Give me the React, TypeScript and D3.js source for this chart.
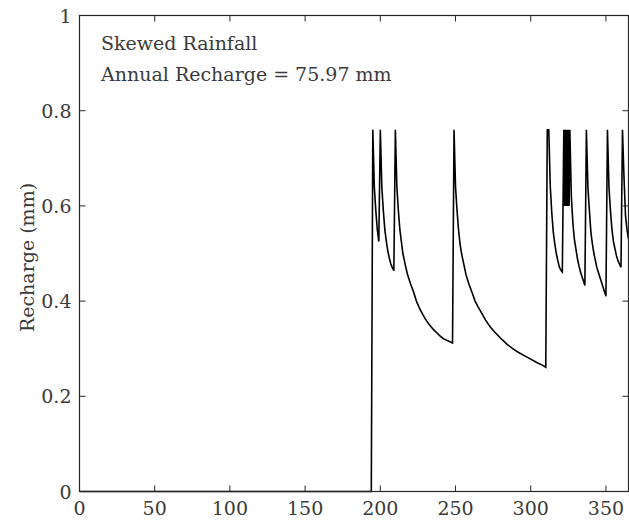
import React from "react";
import * as d3 from "d3";

const W = 629;
const H = 524;

// Day of year and recharge (mm)
const days: number[] = [
  0, 194, 195, 196, 197, 198, 199,
  200, 201, 202, 203, 204, 205, 206, 207, 208, 209,
  210, 211, 212, 213, 214, 215, 216, 217, 218, 219, 220, 222, 224, 226, 228, 230,
  232, 234, 236, 238, 240, 242, 244, 246, 248,
  249, 250, 251, 252, 253, 254, 255, 256, 257, 258, 259, 261, 263, 265, 267, 270,
  273, 276, 280, 284, 288, 292, 296, 300, 304, 308, 310,
  311, 312, 313, 314, 315, 316, 317, 318, 319, 320, 321,
  322, 322.5, 323, 323.5, 324, 324.5, 325, 325.5, 326, 327, 328, 329, 330, 331, 332, 333, 334, 335, 336,
  337, 338, 339, 340, 341, 342, 343, 344, 345, 346, 347, 348, 349, 350,
  351, 352, 353, 354, 355, 356, 357, 358, 359, 360,
  361, 362, 363, 364, 365,
];

const rechargeMm: number[] = [
  0, 0, 0.76, 0.64, 0.59, 0.55, 0.525,
  0.76, 0.64, 0.59, 0.55, 0.525, 0.505, 0.49, 0.478, 0.47, 0.464,
  0.76, 0.64, 0.59, 0.55, 0.525, 0.5, 0.485, 0.47, 0.457, 0.447, 0.437, 0.42, 0.4, 0.385, 0.373, 0.362,
  0.353, 0.345, 0.338, 0.332, 0.326, 0.321, 0.318, 0.315, 0.312,
  0.76, 0.64, 0.59, 0.55, 0.52, 0.5, 0.485, 0.47, 0.455, 0.445, 0.435, 0.418, 0.4, 0.388, 0.377, 0.36,
  0.346, 0.335, 0.322, 0.31, 0.3, 0.292, 0.285, 0.278, 0.271, 0.265, 0.261,
  0.76, 0.76, 0.64, 0.585, 0.545, 0.52, 0.5, 0.485, 0.472, 0.465, 0.461,
  0.76, 0.6, 0.76, 0.6, 0.76, 0.6, 0.76, 0.6, 0.76, 0.62, 0.565, 0.53, 0.51, 0.49, 0.475, 0.462, 0.452, 0.443, 0.433,
  0.76, 0.64, 0.59, 0.545, 0.52, 0.5, 0.485, 0.47, 0.46, 0.45, 0.44, 0.43, 0.42, 0.41,
  0.76, 0.64, 0.59, 0.55, 0.525, 0.51, 0.495, 0.485, 0.478, 0.471,
  0.76, 0.66, 0.58, 0.55, 0.53,
];

const xTicks: number[] = [0, 50, 100, 150, 200, 250, 300, 350];
const yTicks: number[] = [0, 0.2, 0.4, 0.6, 0.8, 1];
const yTickLabels: string[] = ["0", "0.2", "0.4", "0.6", "0.8", "1"];
const annotationLines: string[] = ["Skewed Rainfall", "Annual Recharge = 75.97 mm"];
const yAxisTitle = "Recharge (mm)";

const FONT = "'DejaVu Serif', serif";
const AXIS_COLOR = "#262626";
const TEXT_COLOR = "#3a3a3a";

export default function App() {
  const left = 79.5;
  const right = 628.5;
  const top = 15.5;
  const bottom = 491.5;

  const x = d3.scaleLinear().domain([0, 365]).range([left, right]);
  const y = d3.scaleLinear().domain([0, 1]).range([bottom, top]);

  const pts: [number, number][] = days.map((d, i) => [d, rechargeMm[i]]);
  const line = d3
    .line<[number, number]>()
    .x((p) => x(p[0]))
    .y((p) => y(p[1]));

  const tickLen = 6;
  const textStyle = { fontFamily: FONT };
  const fs = 19;

  return (
    <svg
      width={W}
      height={H}
      style={{ position: "absolute", left: 0, top: 0, background: "#fff" }}
    >
      <rect x={0} y={0} width={W} height={H} fill="#fff" />
      <defs>
        <clipPath id="plotClip">
          <rect x={left} y={top - 2} width={right - left} height={bottom - top + 4} />
        </clipPath>
      </defs>

      {/* data line */}
      <path
        d={line(pts) || ""}
        fill="none"
        stroke="#000"
        strokeWidth={1.6}
        strokeLinejoin="miter"
        clipPath="url(#plotClip)"
      />

      {/* box */}
      <rect
        x={left}
        y={top}
        width={right - left}
        height={bottom - top}
        fill="none"
        stroke={AXIS_COLOR}
        strokeWidth={1.2}
      />

      {/* x ticks */}
      {xTicks.map((t) => (
        <g key={"xt" + t}>
          <line x1={x(t)} x2={x(t)} y1={bottom} y2={bottom - tickLen} stroke={AXIS_COLOR} strokeWidth={1} />
          <line x1={x(t)} x2={x(t)} y1={top} y2={top + tickLen} stroke={AXIS_COLOR} strokeWidth={1} />
          <text
            x={x(t)}
            y={bottom + 23}
            textAnchor="middle"
            style={textStyle}
            fontSize={fs}
            fill={TEXT_COLOR}
          >
            {t}
          </text>
        </g>
      ))}

      {/* y ticks */}
      {yTicks.map((t, i) => (
        <g key={"yt" + t}>
          <line x1={left} x2={left + tickLen} y1={y(t)} y2={y(t)} stroke={AXIS_COLOR} strokeWidth={1} />
          <line x1={right} x2={right - tickLen} y1={y(t)} y2={y(t)} stroke={AXIS_COLOR} strokeWidth={1} />
          <text
            x={left - 8}
            y={y(t) + 7}
            textAnchor="end"
            style={textStyle}
            fontSize={fs}
            fill={TEXT_COLOR}
          >
            {yTickLabels[i]}
          </text>
        </g>
      ))}

      {/* y axis title */}
      <text
        transform={`translate(34, ${(top + bottom) / 2 + 4}) rotate(-90)`}
        textAnchor="middle"
        style={textStyle}
        fontSize={fs}
        fill={TEXT_COLOR}
      >
        {yAxisTitle}
      </text>

      {/* annotation */}
      {annotationLines.map((s, i) => (
        <text
          key={"an" + i}
          x={101}
          y={50 + i * 31}
          style={textStyle}
          fontSize={fs}
          fill={TEXT_COLOR}
        >
          {s}
        </text>
      ))}
    </svg>
  );
}
